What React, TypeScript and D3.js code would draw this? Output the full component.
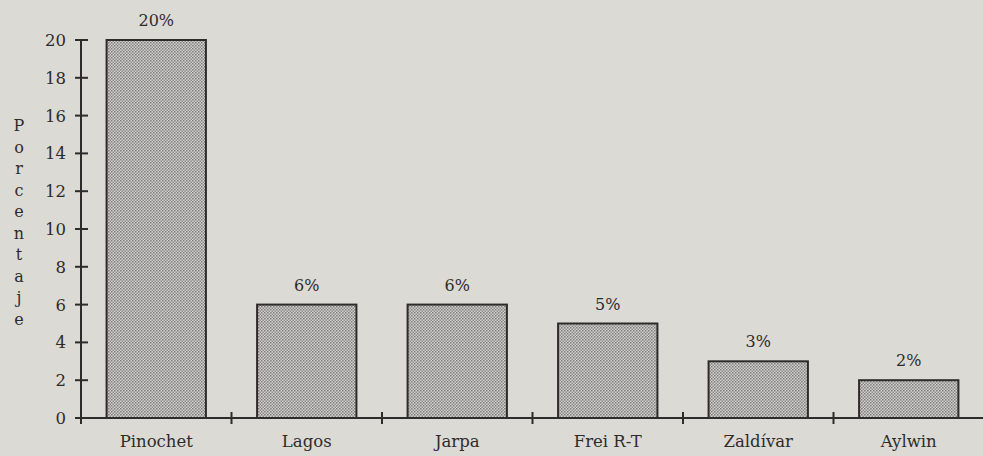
import React, { useRef, useEffect } from 'react';
import * as d3 from 'd3';

const CANDIDATES: string[] = ['Pinochet', 'Lagos', 'Jarpa', 'Frei R-T', 'Zaldívar', 'Aylwin'];
const PERCENTS: number[] = [20, 6, 6, 5, 3, 2];
const Y_TICKS: number[] = [0, 2, 4, 6, 8, 10, 12, 14, 16, 18, 20];
const Y_TITLE = 'Porcentaje';

const FONT = '"DejaVu Serif", serif';
const INK = '#2e2c2b';

const App: React.FC = () => {
  const svgRef = useRef<SVGSVGElement>(null);

  useEffect(() => {
    if (!svgRef.current) return;

    const W = 983;
    const H = 456;
    const left = 81;
    const right = 984;
    const top = 40;
    const bottom = 418;

    const svg = d3.select(svgRef.current);
    svg.selectAll('*').remove();
    svg.attr('width', W).attr('height', H).attr('viewBox', `0 0 ${W} ${H}`);

    // paper background
    svg.append('rect').attr('width', W).attr('height', H).attr('fill', '#dcdad4');

    // stipple pattern for bars
    const pat = svg.append('defs')
      .append('pattern')
      .attr('id', 'dots')
      .attr('width', 3)
      .attr('height', 3)
      .attr('patternUnits', 'userSpaceOnUse');
    pat.append('rect').attr('width', 3).attr('height', 3).attr('fill', '#d2d1ce');
    pat.append('rect').attr('x', 0).attr('y', 0).attr('width', 1.5).attr('height', 1.5).attr('fill', '#7d7c7b');
    pat.append('rect').attr('x', 1.5).attr('y', 1.5).attr('width', 1.5).attr('height', 1.5).attr('fill', '#8c8b8a');

    const x = d3.scaleBand<string>()
      .domain(CANDIDATES)
      .range([left, right])
      .paddingInner(0.34)
      .paddingOuter(0.17);
    const y = d3.scaleLinear().domain([0, 20]).range([bottom, top]);

    // Bars
    svg.append('g')
      .selectAll('rect')
      .data(CANDIDATES)
      .join('rect')
      .attr('x', d => x(d)!)
      .attr('y', (_, i) => y(PERCENTS[i]))
      .attr('width', x.bandwidth())
      .attr('height', (_, i) => y(0) - y(PERCENTS[i]))
      .attr('fill', 'url(#dots)')
      .attr('stroke', INK)
      .attr('stroke-width', 2);

    // Value labels
    svg.append('g')
      .selectAll('text')
      .data(CANDIDATES)
      .join('text')
      .attr('x', d => x(d)! + x.bandwidth() / 2)
      .attr('y', (_, i) => y(PERCENTS[i]) - 14)
      .attr('text-anchor', 'middle')
      .attr('font-family', FONT)
      .attr('font-size', 16)
      .attr('fill', INK)
      .text((_, i) => `${PERCENTS[i]}%`);

    // X axis line
    svg.append('line')
      .attr('x1', left)
      .attr('x2', W)
      .attr('y1', y(0))
      .attr('y2', y(0))
      .attr('stroke', INK)
      .attr('stroke-width', 2);

    // X ticks between categories
    const gap = x.step() * x.paddingInner();
    svg.append('g')
      .selectAll('line')
      .data(CANDIDATES.slice(0, -1))
      .join('line')
      .attr('x1', d => x(d)! + x.bandwidth() + gap / 2)
      .attr('x2', d => x(d)! + x.bandwidth() + gap / 2)
      .attr('y1', y(0) - 6)
      .attr('y2', y(0) + 6)
      .attr('stroke', INK)
      .attr('stroke-width', 2);

    // X labels
    svg.append('g')
      .selectAll('text')
      .data(CANDIDATES)
      .join('text')
      .attr('x', d => x(d)! + x.bandwidth() / 2)
      .attr('y', 447)
      .attr('text-anchor', 'middle')
      .attr('font-family', FONT)
      .attr('font-size', 16.5)
      .attr('fill', INK)
      .text(d => d);

    // Y axis
    svg.append('line')
      .attr('x1', left)
      .attr('x2', left)
      .attr('y1', y(20) - 1)
      .attr('y2', y(0) + 6)
      .attr('stroke', INK)
      .attr('stroke-width', 2);

    svg.append('g')
      .selectAll('line')
      .data(Y_TICKS)
      .join('line')
      .attr('x1', left - 6)
      .attr('x2', left + 7)
      .attr('y1', d => y(d))
      .attr('y2', d => y(d))
      .attr('stroke', INK)
      .attr('stroke-width', 2);

    svg.append('g')
      .selectAll('text')
      .data(Y_TICKS)
      .join('text')
      .attr('x', 66)
      .attr('y', d => y(d))
      .attr('dy', '0.36em')
      .attr('text-anchor', 'end')
      .attr('font-family', FONT)
      .attr('font-size', 16.5)
      .attr('fill', INK)
      .text(d => d);

    // Vertical stacked title
    svg.append('g')
      .selectAll('text')
      .data(Y_TITLE.split(''))
      .join('text')
      .attr('x', 19)
      .attr('y', (_, i) => 131 + i * 21.5)
      .attr('text-anchor', 'middle')
      .attr('font-family', FONT)
      .attr('font-size', 16)
      .attr('fill', INK)
      .text(d => d);
  }, []);

  return <svg ref={svgRef} style={{ display: 'block', position: 'absolute', left: 0, top: 0 }} />;
};

export default App;
